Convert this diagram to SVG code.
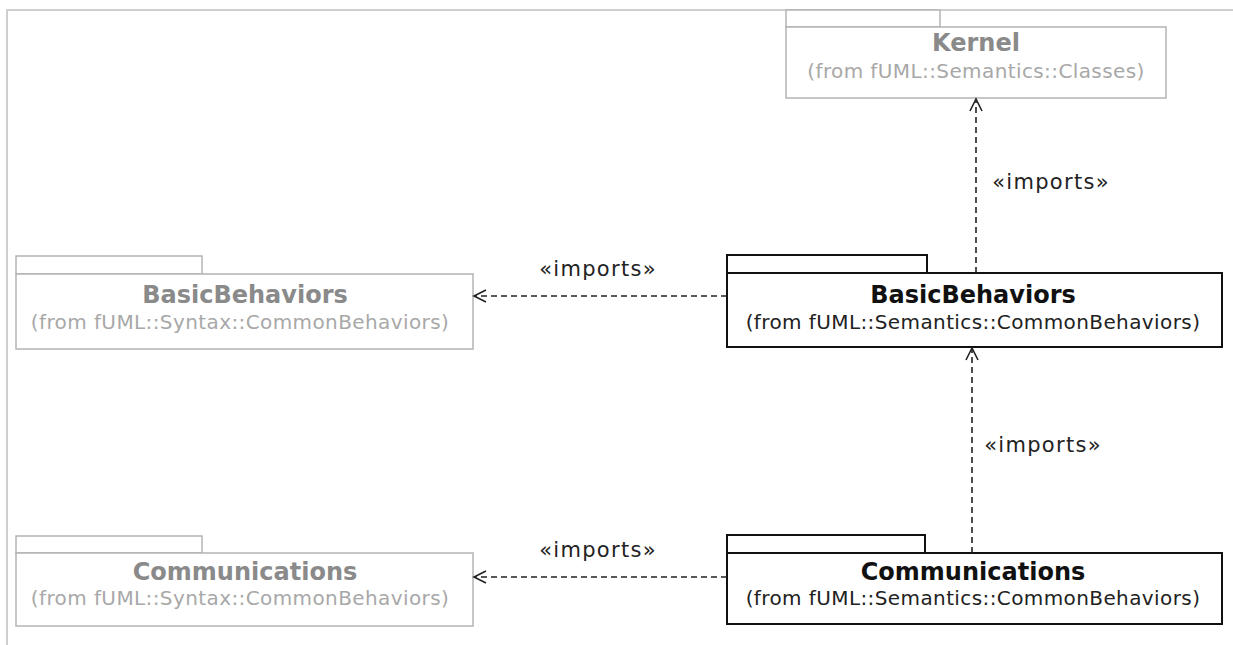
<svg xmlns="http://www.w3.org/2000/svg" width="1233" height="645" viewBox="0 0 1233 645">
<style>
.gbox{fill:#fff;stroke:#b4b4b4;stroke-width:1.5}
.bbox{fill:#fff;stroke:#111;stroke-width:2}
.gt{font-family:"DejaVu Sans",sans-serif;font-size:24px;font-weight:bold;fill:#8a8a8a;text-anchor:middle}
.gs{font-family:"DejaVu Sans",sans-serif;font-size:20px;letter-spacing:0.4px;fill:#a8a8a8;text-anchor:middle}
.bt{font-family:"DejaVu Sans",sans-serif;font-size:24px;font-weight:bold;fill:#111;text-anchor:middle}
.bs{font-family:"DejaVu Sans",sans-serif;font-size:20px;letter-spacing:0.4px;fill:#222;text-anchor:middle}
.lbl{font-family:"DejaVu Sans",sans-serif;font-size:21px;letter-spacing:1.3px;fill:#222;text-anchor:middle}
.dep{fill:none;stroke:#222;stroke-width:1.6;stroke-dasharray:6,4}
.head{fill:none;stroke:#222;stroke-width:1.6}
</style>
<rect width="1233" height="645" fill="#fff"/>
<path d="M7 645 V10 H1233" fill="none" stroke="#cfcfcf" stroke-width="2"/>
<g id="kernel">
<rect class="gbox" x="786" y="10" width="154" height="17"/>
<rect class="gbox" x="786" y="27" width="380" height="71"/>
<text class="gt" x="976" y="51">Kernel</text>
<text class="gs" x="976" y="78">(from fUML::Semantics::Classes)</text>
</g>
<g id="syntax-basicbehaviors">
<rect class="gbox" x="16" y="256" width="186" height="18"/>
<rect class="gbox" x="16" y="274" width="457" height="75"/>
<text class="gt" x="245" y="303">BasicBehaviors</text>
<text class="gs" x="240" y="329">(from fUML::Syntax::CommonBehaviors)</text>
</g>
<g id="semantics-basicbehaviors">
<rect class="bbox" x="727" y="255" width="200" height="18"/>
<rect class="bbox" x="727" y="273" width="495" height="74"/>
<text class="bt" x="973" y="303">BasicBehaviors</text>
<text class="bs" x="973" y="329">(from fUML::Semantics::CommonBehaviors)</text>
</g>
<g id="syntax-communications">
<rect class="gbox" x="16" y="536" width="186" height="17"/>
<rect class="gbox" x="16" y="553" width="457" height="73"/>
<text class="gt" x="245" y="580">Communications</text>
<text class="gs" x="240" y="605">(from fUML::Syntax::CommonBehaviors)</text>
</g>
<g id="semantics-communications">
<rect class="bbox" x="727" y="535" width="198" height="18"/>
<rect class="bbox" x="727" y="553" width="495" height="71"/>
<text class="bt" x="973" y="580">Communications</text>
<text class="bs" x="973" y="605">(from fUML::Semantics::CommonBehaviors)</text>
</g>
<g id="connectors">
<line class="dep" x1="976" y1="273" x2="976" y2="100"/>
<path class="head" d="M970 111 L976 99 L982 111"/>
<text class="lbl" x="1051" y="189">«imports»</text>
<line class="dep" x1="972" y1="553" x2="972" y2="349"/>
<path class="head" d="M966 360 L972 348 L978 360"/>
<text class="lbl" x="1043" y="452">«imports»</text>
<line class="dep" x1="727" y1="296" x2="475" y2="296"/>
<path class="head" d="M486 290 L474 296 L486 302"/>
<text class="lbl" x="598" y="276">«imports»</text>
<line class="dep" x1="727" y1="577" x2="475" y2="577"/>
<path class="head" d="M486 571 L474 577 L486 583"/>
<text class="lbl" x="598" y="557">«imports»</text>
</g>
</svg>
